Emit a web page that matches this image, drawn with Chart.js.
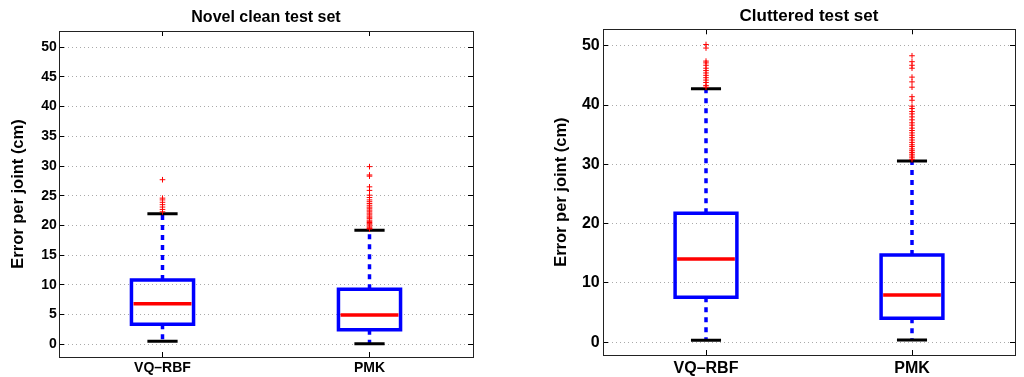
<!DOCTYPE html>
<html>
<head>
<meta charset="utf-8">
<script src="https://cdn.jsdelivr.net/npm/chart.js@4.4.0/dist/chart.umd.min.js"></script>
<style>
  body { margin: 0; background: #fff; }
  #wrap { position: relative; width: 1024px; height: 377px; }
  canvas { position: absolute; top: 0; }
</style>
</head>
<body>
<div id="wrap">
  <canvas id="clean" width="512" height="377" style="left:0"></canvas>
  <canvas id="clutter" width="512" height="377" style="left:512px"></canvas>
</div>
<script>
var categories = ['VQ–RBF', 'PMK'];

// Novel clean test set
var cleanLow = [0.5, 0.1];
var cleanQ1 = [3.36, 2.46];
var cleanMedian = [6.83, 4.93];
var cleanQ3 = [10.8, 9.25];
var cleanHigh = [21.97, 19.2];
var cleanOutVQ = [27.7, 24.6, 24.3, 23.9, 23.5, 23.1, 22.7, 22.3];
var cleanOutPMK = [29.9, 28.5, 28.3, 26.5, 25.9, 25.1, 24.7, 24.3, 24.0, 23.7, 23.4, 23.1, 22.9,
  22.6, 22.4, 22.1, 21.9, 21.6, 21.4, 21.2, 20.9, 20.7, 20.5, 20.3, 20.1, 19.9, 19.7, 19.5, 19.4];
var cleanTicks = [0, 5, 10, 15, 20, 25, 30, 35, 40, 45, 50];

// Cluttered test set
var clutterLow = [0.34, 0.39];
var clutterQ1 = [7.58, 4.04];
var clutterMedian = [14.04, 7.97];
var clutterQ3 = [21.74, 14.71];
var clutterHigh = [42.75, 30.56];
var clutterOutVQ = [50.2, 49.6, 47.4, 47.1, 46.7, 46.2, 45.8, 45.4, 45.0, 44.6, 44.2, 43.8, 43.3, 43.0];
var clutterOutPMK = [48.3, 47.3, 46.7, 46.2, 44.7, 43.9, 43.0, 41.4, 40.8, 39.8, 39.4, 38.9, 38.5,
  38.0, 37.5, 37.0, 36.6, 36.1, 35.7, 35.3, 34.9, 34.5, 34.1, 33.7, 33.3, 33.0, 32.6, 32.3, 32.0,
  31.7, 31.4, 31.1, 30.8];
var clutterTicks = [0, 10, 20, 30, 40, 50];

var FONT = '"Liberation Sans", Arial, Helvetica, sans-serif';
var BOX_HALF = 0.15;
var CAP_HALF = 0.073;

function drawPanel(id, p) {
  var pos = categories.map(function (c, i) { return i + 1; });
  var whiskers = [], caps = [], medians = [], boxes = [], outliers = [];

  pos.forEach(function (x, i) {
    whiskers.push({x: x, y: p.q3[i]}, {x: x, y: p.high[i]}, {x: x, y: null},
                  {x: x, y: p.q1[i]}, {x: x, y: p.low[i]}, {x: x, y: null});
    caps.push({x: x - CAP_HALF, y: p.high[i]}, {x: x + CAP_HALF, y: p.high[i]}, {x: x, y: null},
              {x: x - CAP_HALF, y: p.low[i]}, {x: x + CAP_HALF, y: p.low[i]}, {x: x, y: null});
    medians.push({x: x - BOX_HALF + 0.01, y: p.median[i]}, {x: x + BOX_HALF - 0.01, y: p.median[i]}, {x: x, y: null});
    boxes.push({x: x, y: p.q1[i]}, {x: x + BOX_HALF, y: p.q1[i]}, {x: x + BOX_HALF, y: p.q3[i]},
               {x: x - BOX_HALF, y: p.q3[i]}, {x: x - BOX_HALF, y: p.q1[i]}, {x: x, y: p.q1[i]},
               {x: x, y: null});
    p.out[i].forEach(function (v) { outliers.push({x: x, y: v}); });
  });

  var line = function (data, color, width, dash) {
    return {
      data: data, showLine: true, pointRadius: 0, borderColor: color, borderWidth: width,
      borderDash: dash || [], borderJoinStyle: 'miter', spanGaps: false,
      xAxisID: 'x', yAxisID: 'y'
    };
  };

  var outDs = {
    data: outliers, showLine: false, pointStyle: 'cross', pointRadius: 2.8,
    pointBorderColor: '#ff0000', pointBorderWidth: 1, xAxisID: 'x', yAxisID: 'y'
  };

  var xTicks = function (s) { s.ticks = pos.map(function (v) { return {value: v}; }); };
  var yTicks = function (s) { s.ticks = p.ticks.map(function (v) { return {value: v}; }); };

  new Chart(document.getElementById(id), {
    type: 'scatter',
    data: {
      datasets: [
        outDs,
        line(caps, '#000000', 3),
        line(medians, '#ff0000', 3.5),
        line(boxes, '#0000ff', 3.5),
        line(whiskers, '#0000ff', 3.5, [5, 5])
      ]
    },
    options: {
      responsive: false,
      animation: false,
      layout: {padding: {left: 0, right: p.padRight, top: 0, bottom: 0}},
      plugins: {
        legend: {display: false},
        tooltip: {enabled: false},
        title: {
          display: true, text: p.title, color: '#000', fullSize: false,
          font: {family: FONT, size: p.titleSize, weight: 'bold'},
          padding: {top: p.titleTop, bottom: p.titleBottom}
        }
      },
      scales: {
        x: {
          type: 'linear', position: 'bottom', min: 0.5, max: 2.5,
          afterBuildTicks: xTicks,
          afterFit: function (s) { s.height = p.xHeight; },
          ticks: {
            callback: function (v) { return categories[v - 1]; },
            color: '#000', padding: p.xPad, autoSkip: false, maxRotation: 0,
            font: {family: FONT, size: p.tickSize, weight: 'bold'}
          },
          grid: {drawOnChartArea: false, tickLength: -5, tickColor: '#000'},
          border: {color: '#222', width: 1}
        },
        xTop: {
          type: 'linear', position: 'top', min: 0.5, max: 2.5,
          afterBuildTicks: xTicks,
          afterFit: function (s) { s.height = 0; },
          ticks: {display: false},
          grid: {drawOnChartArea: false, tickLength: -5, tickColor: '#000'},
          border: {color: '#222', width: 1}
        },
        y: {
          type: 'linear', position: 'left', min: p.yMin, max: p.yMax,
          afterBuildTicks: yTicks,
          afterFit: function (s) { s.width = p.yWidth; },
          ticks: {
            color: '#000', padding: p.yPad,
            font: {family: FONT, size: p.tickSize, weight: 'bold'}
          },
          grid: {color: '#aaaaaa', lineWidth: 1, tickLength: -5, tickColor: '#000'},
          border: {color: '#222', width: 1, dash: [1, 3]},
          title: {
            display: true, text: 'Error per joint (cm)', color: '#000',
            font: {family: FONT, size: 16.5, weight: 'bold'},
            padding: {top: p.yTitlePad, bottom: 0}
          }
        },
        yRight: {
          type: 'linear', position: 'right', min: p.yMin, max: p.yMax,
          afterBuildTicks: yTicks,
          afterFit: function (s) { s.width = 0; },
          ticks: {display: false},
          grid: {drawOnChartArea: false, tickLength: -5, tickColor: '#000'},
          border: {color: '#222', width: 1}
        }
      }
    }
  });
}

drawPanel('clean', {
  title: 'Novel clean test set', titleSize: 16, titleTop: 7.6, titleBottom: 4.2,
  low: cleanLow, q1: cleanQ1, median: cleanMedian, q3: cleanQ3, high: cleanHigh,
  out: [cleanOutVQ, cleanOutPMK], ticks: cleanTicks,
  yMin: -2.14, yMax: 52.73, tickSize: 14,
  padRight: 39, yWidth: 59, xHeight: 20, xPad: 7.6, yPad: 7.3, yTitlePad: 8.1
});

drawPanel('clutter', {
  title: 'Cluttered test set', titleSize: 17, titleTop: 5.8, titleBottom: 3.1,
  low: clutterLow, q1: clutterQ1, median: clutterMedian, q3: clutterQ3, high: clutterHigh,
  out: [clutterOutVQ, clutterOutPMK], ticks: clutterTicks,
  yMin: -2.14, yMax: 52.76, tickSize: 16,
  padRight: 9, yWidth: 91, xHeight: 22, xPad: 8.9, yPad: 8.3, yTitlePad: 40
});
</script>
</body>
</html>
